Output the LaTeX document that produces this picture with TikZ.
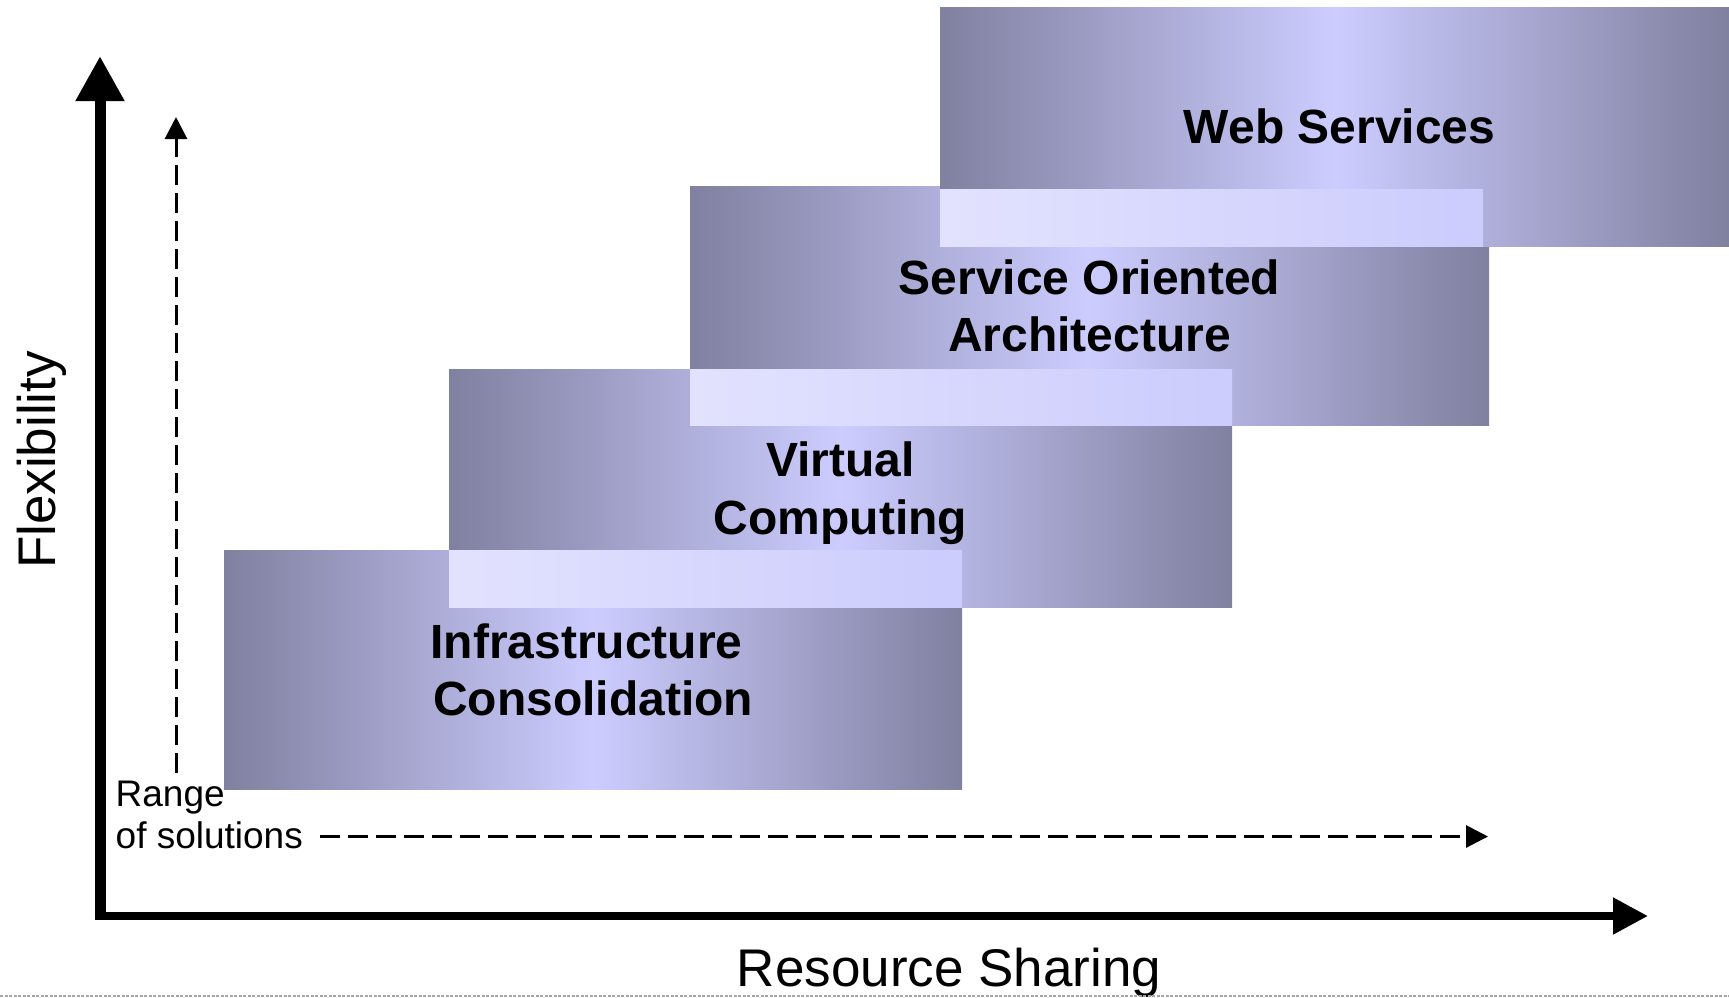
\documentclass[tikz,border=0pt]{standalone}
\usepackage{fontspec}
\setmainfont{Liberation Sans}
\usetikzlibrary{arrows.meta}

\definecolor{bandedge}{RGB}{128,128,160}
\definecolor{bandmid}{RGB}{204,204,255}
\definecolor{paleleft}{RGB}{226,226,254}
\definecolor{paleright}{RGB}{204,204,253}

\begin{document}
\begin{tikzpicture}[x=1pt,y=-1pt,
  band/.style={rectangle, inner sep=0pt, outer sep=0pt, anchor=north west,
    left color=bandedge, right color=bandedge, middle color=bandmid},
  overlap/.style={rectangle, inner sep=0pt, outer sep=0pt, anchor=north west,
    left color=paleleft, right color=paleright},
  bandlabel/.style={font=\fontsize{48}{57.6}\selectfont\bfseries, align=center,
    inner sep=0pt, text depth=0pt},
  axislabel/.style={font=\fontsize{53}{60}\selectfont, inner sep=0pt},
  rangelabel/.style={font=\fontsize{37}{42}\selectfont, inner sep=0pt, align=left},
  axisline/.style={line width=#1},
  dashedarrow/.style={line width=3pt, dash pattern=on 20pt off 8pt,
    -{Triangle[width=22pt,length=22pt]}}
]
\useasboundingbox (0,0) rectangle (1729,997);

% stacked bands, each one step up and to the right
\node[band, minimum width=738pt, minimum height=239pt] (infra) at (224,550) {};
\node[band, minimum width=783pt, minimum height=238pt] (virt)  at (449,369) {};
\node[band, minimum width=799pt, minimum height=239pt] (soa)   at (690,186) {};
\node[band, minimum width=789pt, minimum height=239pt] (web)   at (940,7) {};

% lighter strips where neighbouring bands overlap
\node[overlap, minimum width=513pt, minimum height=57pt] (ov1) at (449,550) {};
\node[overlap, minimum width=542pt, minimum height=56pt] (ov2) at (690,369) {};
\node[overlap, minimum width=543pt, minimum height=57pt] (ov3) at (940,189) {};

% band titles
\node[bandlabel] (tinfra) at (infra.center) {Infrastructure\hspace*{13pt}\\Consolidation};
\node[bandlabel] (tvirt)  at (virt.center)  {Virtual\\Computing};
\node[bandlabel] (tsoa)   at (soa.center)   {Service Oriented\\Architecture};
\node[bandlabel] (tweb)   at ([xshift=5pt]web.center) {Web Services};

% axes
\coordinate (corner) at (100,920);
\coordinate (ytip)   at (100,56);
\coordinate (xstart) at (94.5,916);
\coordinate (xtip)   at (1648,916);
\draw[axisline=11pt, -{Triangle[width=46pt,length=45pt]}] (corner) -- (ytip);
\draw[axisline=8pt,  -{Triangle[width=35pt,length=35pt]}] (xstart) -- (xtip);

\node[axislabel, rotate=90, anchor=base] (flex) at (55,460) {Flexibility};
\node[axislabel, anchor=base] (share) at (949,986.7) {Resource Sharing};

% range of solutions
\node[rangelabel, anchor=north west] (range) at (115.5,780.5) {Range\\of solutions};
\coordinate (rvbot) at (176,773);
\coordinate (rvtop) at (176,117);
\coordinate (rhl)   at (320,836.5);
\coordinate (rhr)   at (1488,836.5);
\draw[dashedarrow] (rvbot) -- (rvtop);
\draw[dashedarrow] (rhl) -- (rhr);

% page edge
\coordinate (el) at (0,996);
\coordinate (er) at (1729,996);
\draw[black!35, line width=1.5pt, dash pattern=on 3pt off 1.5pt] (el) -- (er);
\end{tikzpicture}
\end{document}
